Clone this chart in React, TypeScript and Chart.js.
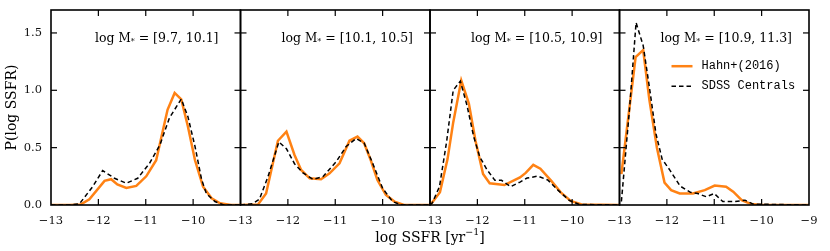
import React, { useEffect, useRef } from "react";
import { Chart, registerables } from "chart.js";

Chart.register(...registerables);

// ---------------- data ----------------
const xMin = -13;
const xMax = -9;
const yMax = 1.7;
const xInnerTicks = [-12, -11, -10];
const yInnerTicks = [0.5, 1.0, 1.5];

const massBins = ["[9.7, 10.1]", "[10.1, 10.5]", "[10.5, 10.9]", "[10.9, 11.3]"];
const seriesNames = ["Hahn+(2016)", "SDSS Centrals"];

// panel 1: log M* = [9.7, 10.1]
const hahnX1 = [-13, -12.6, -12.37, -12.19, -11.87, -11.73, -11.6, -11.41, -11.2, -10.99, -10.78, -10.54, -10.39, -10.25, -10.11, -9.96, -9.79, -9.61, -9.43, -9.2, -9];
const hahnY1 = [0, 0, 0.005, 0.05, 0.21, 0.225, 0.18, 0.148, 0.166, 0.25, 0.39, 0.83, 0.977, 0.92, 0.685, 0.39, 0.16, 0.058, 0.015, 0, 0];
const sdssX1 = [-13, -12.6, -12.4, -12.12, -11.91, -11.66, -11.41, -11.17, -10.92, -10.7, -10.5, -10.25, -10.11, -9.96, -9.82, -9.72, -9.54, -9.35, -9];
const sdssY1 = [0, 0, 0.01, 0.16, 0.3, 0.233, 0.19, 0.233, 0.364, 0.525, 0.76, 0.924, 0.77, 0.51, 0.22, 0.1, 0.03, 0, 0];

// panel 2: log M* = [10.1, 10.5]
const hahnX2 = [-13, -12.63, -12.46, -12.21, -12.03, -11.86, -11.72, -11.54, -11.3, -11.12, -10.91, -10.7, -10.53, -10.39, -10.25, -10.11, -9.93, -9.75, -9.55, -9];
const hahnY2 = [0, 0.005, 0.1, 0.56, 0.64, 0.436, 0.305, 0.233, 0.224, 0.276, 0.363, 0.56, 0.596, 0.538, 0.39, 0.218, 0.087, 0.03, 0, 0];
const sdssX2 = [-13, -12.75, -12.6, -12.42, -12.19, -12.03, -11.86, -11.68, -11.47, -11.26, -10.98, -10.77, -10.56, -10.39, -10.21, -10.0, -9.79, -9.6, -9];
const sdssY2 = [0, 0.01, 0.05, 0.247, 0.55, 0.49, 0.36, 0.28, 0.224, 0.247, 0.378, 0.51, 0.58, 0.54, 0.363, 0.145, 0.03, 0, 0];

// panel 3: log M* = [10.5, 10.9]
const hahnX3 = [-13, -12.95, -12.79, -12.63, -12.51, -12.34, -12.18, -12.04, -11.88, -11.74, -11.43, -11.1, -10.98, -10.82, -10.67, -10.44, -10.24, -10.03, -9.8, -9];
const hahnY3 = [0, 0.025, 0.112, 0.4, 0.72, 1.085, 0.885, 0.56, 0.27, 0.19, 0.174, 0.24, 0.28, 0.35, 0.316, 0.21, 0.11, 0.035, 0.005, 0];
const sdssX3 = [-13, -12.95, -12.8, -12.65, -12.51, -12.36, -12.22, -12.08, -11.95, -11.8, -11.63, -11.49, -11.3, -11.1, -10.95, -10.72, -10.51, -10.3, -10.06, -9.85, -9];
const sdssY3 = [0, 0.02, 0.16, 0.55, 1.0, 1.08, 0.87, 0.6, 0.42, 0.31, 0.215, 0.215, 0.16, 0.2, 0.235, 0.252, 0.217, 0.13, 0.04, 0.005, 0];

// panel 4: log M* = [10.9, 11.3]
const hahnX4 = [-12.96, -12.66, -12.5, -12.37, -12.21, -12.05, -11.91, -11.73, -11.45, -11.2, -10.99, -10.75, -10.6, -10.42, -10.22, -10.0, -9];
const hahnY4 = [0.27, 1.29, 1.35, 0.92, 0.5, 0.195, 0.13, 0.1, 0.1, 0.13, 0.17, 0.16, 0.116, 0.043, 0.008, 0, 0];
const sdssX4 = [-12.96, -12.79, -12.65, -12.5, -12.37, -12.23, -12.1, -11.93, -11.72, -11.5, -11.35, -11.17, -11.0, -10.82, -10.56, -10.35, -10.18, -9];
const sdssY4 = [0.03, 0.83, 1.59, 1.39, 1.03, 0.62, 0.4, 0.3, 0.165, 0.11, 0.1, 0.072, 0.1, 0.03, 0.03, 0.042, 0.008, 0];

const hahnXs = [hahnX1, hahnX2, hahnX3, hahnX4];
const hahnYs = [hahnY1, hahnY2, hahnY3, hahnY4];
const sdssXs = [sdssX1, sdssX2, sdssX3, sdssX4];
const sdssYs = [sdssY1, sdssY2, sdssY3, sdssY4];

// ---------------- styles ----------------
const ORANGE = "#ff8214";
const SERIF = '"DejaVu Serif", serif';
const MONO = '"Liberation Mono", monospace';
const span = xMax - xMin;
const nPanels = massBins.length;

type Piece = { text: string; font: string; dy?: number };

function drawRich(ctx: CanvasRenderingContext2D, pieces: Piece[], x: number, y: number, align: "left" | "center" | "right") {
  let total = 0;
  const widths = pieces.map((p) => {
    ctx.font = p.font;
    const w = ctx.measureText(p.text).width;
    total += w;
    return w;
  });
  let cx = align === "right" ? x - total : align === "center" ? x - total / 2 : x;
  ctx.textAlign = "left";
  ctx.textBaseline = "middle";
  pieces.forEach((p, i) => {
    ctx.font = p.font;
    ctx.fillText(p.text, cx, y + (p.dy || 0));
    cx += widths[i];
  });
}

const panelPlugin = {
  id: "panelDecor",
  afterDatasetsDraw(chart: any) {
    const ctx: CanvasRenderingContext2D = chart.ctx;
    const a = chart.chartArea;
    const xs = chart.scales.x;
    const ys = chart.scales.y;
    ctx.save();
    ctx.strokeStyle = "#000";
    ctx.fillStyle = "#000";
    const seg = (x1: number, y1: number, x2: number, y2: number) => {
      ctx.beginPath();
      ctx.moveTo(x1, y1);
      ctx.lineTo(x2, y2);
      ctx.stroke();
    };
    for (let i = 0; i < nPanels; i++) {
      const off = i * span;
      const l = xs.getPixelForValue(xMin + off);
      const r = xs.getPixelForValue(xMax + off);
      ctx.lineWidth = 1.2;
      for (const v of xInnerTicks) {
        const px = xs.getPixelForValue(v + off);
        seg(px, a.bottom, px, a.bottom - 6);
        seg(px, a.top, px, a.top + 6);
      }
      for (const v of yInnerTicks) {
        const py = ys.getPixelForValue(v);
        seg(l, py, l + 6, py);
        seg(r, py, r - 6, py);
      }
      ctx.lineWidth = 1.6;
      ctx.strokeRect(l, a.top, r - l, a.bottom - a.top);

      // mass-bin annotation
      const ty = ys.getPixelForValue(1.45);
      const rightPad = i === 0 ? 22 : 17;
      drawRich(
        ctx,
        [
          { text: "log ", font: `12.5px ${SERIF}` },
          { text: "M", font: `12px ${SERIF}` },
          { text: "*", font: `8px ${SERIF}`, dy: 3 },
          { text: " = " + massBins[i], font: `12.5px ${SERIF}` },
        ],
        r - rightPad,
        ty,
        "right"
      );
    }

    // legend in last panel
    const lastL = xs.getPixelForValue(xMin + (nPanels - 1) * span);
    const metas = [chart.getDatasetMeta((nPanels - 1) * 2), chart.getDatasetMeta((nPanels - 1) * 2 + 1)];
    const rows = [ys.getPixelForValue(1.21), ys.getPixelForValue(1.035)];
    metas.forEach((m: any, k: number) => {
      const ds = chart.data.datasets[m.index];
      ctx.save();
      ctx.strokeStyle = ds.borderColor;
      ctx.lineWidth = ds.borderWidth;
      ctx.setLineDash(ds.borderDash || []);
      seg(lastL + 52, rows[k], lastL + 73, rows[k]);
      ctx.restore();
      ctx.font = `12px ${MONO}`;
      ctx.textAlign = "left";
      ctx.textBaseline = "middle";
      ctx.fillText(ds.label, lastL + 82, rows[k]);
    });

    // axis titles
    ctx.fillStyle = "#000";
    drawRich(
      ctx,
      [
        { text: "log SSFR [yr", font: `14px ${SERIF}` },
        { text: "\u22121", font: `9.5px ${SERIF}`, dy: -5 },
        { text: "]", font: `14px ${SERIF}` },
      ],
      (a.left + a.right) / 2,
      a.bottom + 33,
      "center"
    );
    ctx.save();
    ctx.translate(12, (a.top + a.bottom) / 2);
    ctx.rotate(-Math.PI / 2);
    drawRich(ctx, [{ text: "P(log SSFR)", font: `14px ${SERIF}` }], 0, 0, "center");
    ctx.restore();
    ctx.restore();
  },
};

function buildDatasets() {
  const ds: any[] = [];
  for (let i = 0; i < nPanels; i++) {
    const off = i * span;
    ds.push({
      label: seriesNames[0],
      data: hahnXs[i].map((v, k) => ({ x: v + off, y: hahnYs[i][k] })),
      borderColor: ORANGE,
      borderWidth: 2.5,
      pointRadius: 0,
      tension: 0,
      fill: false,
      order: 1,
    });
    ds.push({
      label: seriesNames[1],
      data: sdssXs[i].map((v, k) => ({ x: v + off, y: sdssYs[i][k] })),
      borderColor: "#000",
      borderWidth: 1.5,
      borderDash: [4.5, 3],
      pointRadius: 0,
      tension: 0,
      fill: false,
      order: 0,
    });
  }
  return ds;
}

export default function App() {
  const ref = useRef<HTMLCanvasElement | null>(null);
  useEffect(() => {
    if (!ref.current) return;
    const chart = new Chart(ref.current, {
      type: "line",
      data: { datasets: buildDatasets() },
      options: {
        animation: false,
        responsive: false,
        devicePixelRatio: 1,
        layout: { padding: { top: 10, right: 21, left: 0, bottom: 0 } },
        plugins: { legend: { display: false }, tooltip: { enabled: false } },
        scales: {
          x: {
            type: "linear",
            min: xMin,
            max: xMin + nPanels * span,
            grid: { display: false, drawTicks: false },
            border: { display: false },
            ticks: {
              stepSize: 1,
              autoSkip: false,
              maxRotation: 0,
              padding: 9,
              color: "#111",
              font: { family: '"DejaVu Serif", serif', size: 11.5 },
              callback: (val: any) => {
                const v = Number(val);
                const last = xMin + nPanels * span;
                let local = v - Math.floor((v - xMin) / span) * span;
                if (Math.abs(v - last) < 1e-9) local = xMax;
                return "\u2212" + String(Math.abs(Math.round(local)));
              },
            },
            afterFit: (axis: any) => {
              axis.height = 46;
              axis.paddingLeft = 0;
              axis.paddingRight = 0;
            },
          },
          y: {
            type: "linear",
            min: 0,
            max: yMax,
            grid: { display: false, drawTicks: false },
            border: { display: false },
            ticks: {
              stepSize: 0.5,
              includeBounds: false,
              padding: 9,
              color: "#111",
              font: { family: '"DejaVu Serif", serif', size: 11.5 },
              callback: (val: any) => Number(val).toFixed(1),
            },
            afterBuildTicks: (axis: any) => {
              axis.ticks = axis.ticks.filter((t: any) => Math.abs(t.value * 2 - Math.round(t.value * 2)) < 1e-6);
            },
            afterFit: (axis: any) => {
              axis.width = 51;
              axis.paddingTop = 0;
              axis.paddingBottom = 0;
            },
          },
        },
      } as any,
      plugins: [panelPlugin],
    });
    return () => chart.destroy();
  }, []);
  return (
    <div style={{ position: "fixed", left: 0, top: 0, width: 830, height: 251, background: "#fff" }}>
      <canvas ref={ref} width={830} height={251} style={{ width: 830, height: 251, display: "block" }} />
    </div>
  );
}
